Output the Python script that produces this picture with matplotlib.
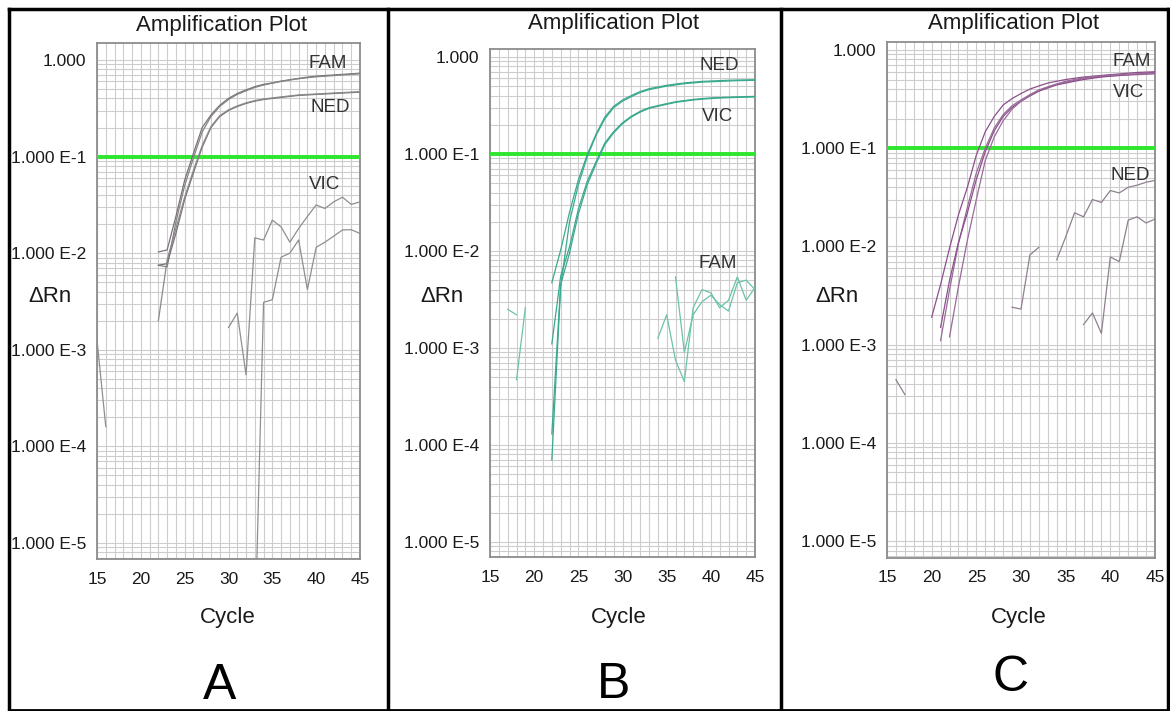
import numpy as np
import matplotlib
matplotlib.use("Agg")
import matplotlib.pyplot as plt
from matplotlib.ticker import MultipleLocator, LogLocator, NullFormatter
from matplotlib.lines import Line2D

plt.rcParams['font.family'] = ['Liberation Sans', 'DejaVu Sans']

# ---- data ----
x_ticks = [15, 20, 25, 30, 35, 40, 45]
y_ticks = [1e-5, 1e-4, 1e-3, 1e-2, 1e-1, 1.0]
y_tick_labels = ["1.000 E-5", "1.000 E-4", "1.000 E-3", "1.000 E-2", "1.000 E-1", "1.000"]
threshold = 0.1

# panel A (grey)
a_amp_cycles = list(range(22, 46))
a_fam1 = [0.0103, 0.0108, 0.024, 0.057, 0.108, 0.20, 0.27, 0.34, 0.40, 0.45, 0.49, 0.53,
          0.56, 0.58, 0.605, 0.625, 0.645, 0.665, 0.68, 0.69, 0.70, 0.71, 0.72, 0.73]
a_fam2 = [0.0075, 0.0072, 0.021, 0.050, 0.097, 0.18, 0.26, 0.33, 0.39, 0.44, 0.48, 0.52,
          0.55, 0.575, 0.60, 0.62, 0.64, 0.655, 0.67, 0.68, 0.69, 0.70, 0.71, 0.72]
a_ned1 = [0.0075, 0.0078, 0.016, 0.036, 0.068, 0.125, 0.20, 0.26, 0.30, 0.33, 0.355, 0.375,
          0.39, 0.40, 0.41, 0.42, 0.43, 0.435, 0.44, 0.445, 0.45, 0.455, 0.46, 0.465]
a_ned2 = [0.0020, 0.0085, 0.018, 0.038, 0.072, 0.13, 0.205, 0.265, 0.305, 0.335, 0.36, 0.38,
          0.395, 0.405, 0.415, 0.425, 0.435, 0.44, 0.445, 0.45, 0.455, 0.46, 0.465, 0.47]
a_vic1_cycles = list(range(30, 46))
a_vic1 = [0.0017, 0.0024, 0.00055, 0.0144, 0.0137, 0.022, 0.0187, 0.013, 0.018, 0.024,
          0.0316, 0.029, 0.034, 0.038, 0.032, 0.034]
a_vic2_cycles = list(range(33, 46))
a_vic2 = [1e-6, 0.0031, 0.0033, 0.0091, 0.010, 0.0137, 0.0042, 0.0115, 0.013, 0.015,
          0.0174, 0.0175, 0.016]
a_early_cycles = [15, 16]
a_early = [0.00126, 0.00016]

# panel B (teal)
b_amp_cycles = list(range(22, 46))
b_ned1 = [0.0047, 0.0102, 0.025, 0.054, 0.098, 0.16, 0.24, 0.31, 0.36, 0.40, 0.44, 0.47,
          0.49, 0.51, 0.525, 0.54, 0.55, 0.56, 0.565, 0.57, 0.575, 0.578, 0.58, 0.582]
b_ned2 = [0.00007, 0.0043, 0.020, 0.048, 0.093, 0.155, 0.23, 0.30, 0.35, 0.39, 0.43, 0.46,
          0.48, 0.50, 0.515, 0.53, 0.54, 0.55, 0.555, 0.56, 0.565, 0.57, 0.572, 0.575]
b_vic1 = [0.0011, 0.0055, 0.011, 0.027, 0.052, 0.083, 0.13, 0.17, 0.21, 0.245, 0.275, 0.30,
          0.315, 0.33, 0.345, 0.355, 0.365, 0.372, 0.378, 0.382, 0.385, 0.388, 0.39, 0.392]
b_vic2 = [0.00013, 0.0045, 0.0095, 0.024, 0.048, 0.079, 0.125, 0.165, 0.205, 0.24, 0.27, 0.295,
          0.31, 0.325, 0.34, 0.35, 0.36, 0.367, 0.373, 0.377, 0.38, 0.383, 0.385, 0.387]
b_fam_l1_cycles = [17, 18]
b_fam_l1 = [0.0025, 0.0022]
b_fam_l2_cycles = [18, 19]
b_fam_l2 = [0.00047, 0.0026]
b_fam_r1_cycles = list(range(34, 46))
b_fam_r1 = [0.00126, 0.0022, 0.00075, 0.00045, 0.0026, 0.0040, 0.0037, 0.0026, 0.0031,
            0.0054, 0.0031, 0.0042]
b_fam_r2_cycles = list(range(36, 46))
b_fam_r2 = [0.0054, 0.0009, 0.0022, 0.0030, 0.0035, 0.0028, 0.0024, 0.0047, 0.0050, 0.0040]

# panel C (purple)
c_amp1_cycles = list(range(20, 46))
c_amp1 = [0.0019, 0.0041, 0.0096, 0.021, 0.040, 0.085, 0.147, 0.21, 0.275, 0.32, 0.36, 0.40,
          0.43, 0.46, 0.48, 0.50, 0.515, 0.53, 0.54, 0.55, 0.56, 0.57, 0.58, 0.59, 0.595, 0.60]
c_amp2_cycles = list(range(21, 46))
c_amp2 = [0.0011, 0.0036, 0.0107, 0.025, 0.056, 0.10, 0.16, 0.22, 0.27, 0.31, 0.35, 0.39,
          0.42, 0.45, 0.47, 0.49, 0.51, 0.525, 0.535, 0.545, 0.55, 0.555, 0.56, 0.565, 0.57]
c_amp3 = [0.0015, 0.0045, 0.011, 0.022, 0.048, 0.092, 0.15, 0.21, 0.26, 0.30, 0.34, 0.38,
          0.41, 0.44, 0.46, 0.48, 0.50, 0.515, 0.53, 0.54, 0.55, 0.56, 0.57, 0.58, 0.59]
c_amp4_cycles = list(range(22, 46))
c_amp4 = [0.0012, 0.0039, 0.0116, 0.030, 0.075, 0.13, 0.19, 0.25, 0.30, 0.35, 0.39, 0.42,
          0.45, 0.48, 0.50, 0.52, 0.535, 0.545, 0.555, 0.56, 0.565, 0.57, 0.575, 0.58]
c_ned1_cycles = [29, 30, 31, 32]
c_ned1 = [0.0024, 0.0023, 0.0082, 0.0098]
c_ned2_cycles = list(range(34, 46))
c_ned2 = [0.0073, 0.0125, 0.022, 0.020, 0.030, 0.028, 0.037, 0.035, 0.040, 0.042, 0.045, 0.047]
c_ned3_cycles = list(range(37, 46))
c_ned3 = [0.0016, 0.0021, 0.0013, 0.0078, 0.0070, 0.0185, 0.020, 0.0173, 0.019]
c_early_cycles = [16, 17]
c_early = [0.00044, 0.00031]

W, H = 1170, 711


def px_rect(left, top, right, bottom):
  return [left / W, (H - bottom) / H, (right - left) / W, (bottom - top) / H]


def setup_axes(ax, ylim):
  ax.set_yscale('log')
  ax.set_xlim(15, 45)
  ax.set_ylim(*ylim)
  ax.set_xticks(x_ticks)
  ax.xaxis.set_minor_locator(MultipleLocator(1))
  ax.set_yticks(y_ticks)
  ax.set_yticklabels(y_tick_labels)
  ax.yaxis.set_minor_locator(LogLocator(base=10, subs=np.arange(2, 10)))
  ax.yaxis.set_minor_formatter(NullFormatter())
  ax.grid(True, which='both', color='#cdcdcd', lw=0.8)
  ax.set_axisbelow(True)
  ax.tick_params(which='both', length=0)
  ax.tick_params(axis='y', labelsize=12.5, pad=8, labelcolor='#1a1a1a')
  ax.tick_params(axis='x', labelsize=12.5, pad=9, labelcolor='#1a1a1a')
  for s in ax.spines.values():
    s.set_color('#8c8c8c')
    s.set_linewidth(1.3)
  ax.axhline(threshold, color='#2ee62e', lw=2.8, zorder=3)


fig = plt.figure(figsize=(11.7, 7.11), dpi=100)

# panel A
ax_a = fig.add_axes(px_rect(97, 43, 360, 559))
setup_axes(ax_a, (10 ** -5.166, 10 ** 0.176))
for ys, col in [(a_fam1, '#7a6f7a'), (a_fam2, '#858585'), (a_ned1, '#7a6f7a'), (a_ned2, '#8a8a8a')]:
  ax_a.plot(a_amp_cycles, ys, color=col, lw=0.9, zorder=4)
ax_a.plot(a_vic1_cycles, a_vic1, color='#8f8f8f', lw=0.9, zorder=4)
ax_a.plot(a_vic2_cycles, a_vic2, color='#8f8f8f', lw=0.9, zorder=4)
ax_a.plot(a_early_cycles, a_early, color='#8f8f8f', lw=0.9, zorder=4)
ax_a.text(41.3, 0.93, "FAM", fontsize=13.5, color='#333333', ha='center', va='center')
ax_a.text(41.6, 0.32, "NED", fontsize=13.5, color='#333333', ha='center', va='center')
ax_a.text(41.0, 0.051, "VIC", fontsize=13.5, color='#333333', ha='center', va='center')

# panel B
ax_b = fig.add_axes(px_rect(490, 49, 755, 557))
setup_axes(ax_b, (10 ** -5.155, 10 ** 0.082))
for ys in [b_ned1, b_ned2, b_vic1, b_vic2]:
  ax_b.plot(b_amp_cycles, ys, color='#3aa98e', lw=0.9, zorder=4)
for cx, ys in [(b_fam_l1_cycles, b_fam_l1), (b_fam_l2_cycles, b_fam_l2),
               (b_fam_r1_cycles, b_fam_r1), (b_fam_r2_cycles, b_fam_r2)]:
  ax_b.plot(cx, ys, color='#6cc2aa', lw=0.9, zorder=4)
ax_b.text(41.0, 0.81, "NED", fontsize=13.5, color='#333333', ha='center', va='center')
ax_b.text(40.8, 0.246, "VIC", fontsize=13.5, color='#333333', ha='center', va='center')
ax_b.text(40.8, 0.0075, "FAM", fontsize=13.5, color='#333333', ha='center', va='center')

# panel C
ax_c = fig.add_axes(px_rect(887, 42, 1155, 558))
setup_axes(ax_c, (10 ** -5.173, 10 ** 0.081))
ax_c.plot(c_amp1_cycles, c_amp1, color='#8c4f8c', lw=0.9, zorder=4)
ax_c.plot(c_amp2_cycles, c_amp2, color='#9a6a9a', lw=0.9, zorder=4)
ax_c.plot(c_amp2_cycles, c_amp3, color='#8c4f8c', lw=0.9, zorder=4)
ax_c.plot(c_amp4_cycles, c_amp4, color='#9a6a9a', lw=0.9, zorder=4)
for cx, ys in [(c_ned1_cycles, c_ned1), (c_ned2_cycles, c_ned2), (c_ned3_cycles, c_ned3),
               (c_early_cycles, c_early)]:
  ax_c.plot(cx, ys, color='#8f8090', lw=0.9, zorder=4)
ax_c.text(42.4, 0.77, "FAM", fontsize=13.5, color='#333333', ha='center', va='center')
ax_c.text(42.0, 0.365, "VIC", fontsize=13.5, color='#333333', ha='center', va='center')
ax_c.text(42.2, 0.053, "NED", fontsize=13.5, color='#333333', ha='center', va='center')

# titles, axis names and panel letters
for cx, ty, ly, cyx in [(222, 26, 50, 228), (614, 23, 442, 619), (1014, 24, 837, 1019)]:
  fig.text(cx / W, 1 - ty / H, "Amplification Plot", fontsize=16, ha='center', va='center', color='#1a1a1a')
  fig.text(ly / W, 1 - 297 / H, "\u0394Rn", fontsize=16, ha='center', va='center', color='#1a1a1a')
  fig.text(cyx / W, 1 - 617 / H, "Cycle", fontsize=16, ha='center', va='center', color='#1a1a1a')

fig.text(220 / W, 1 - 686 / H, "A", fontsize=36, ha='center', va='center', color='black')
fig.text(614 / W, 1 - 685 / H, "B", fontsize=36, ha='center', va='center', color='black')
fig.text(1011 / W, 1 - 678 / H, "C", fontsize=36, ha='center', va='center', color='black')

# black frames round the three pictures
for x in [9, 388, 781, 1168]:
  fig.add_artist(Line2D([x / W, x / W], [0, 1 - 9 / H], color='black', lw=2.5, transform=fig.transFigure))
fig.add_artist(Line2D([9 / W, 1168 / W], [1 - 9 / H, 1 - 9 / H], color='black', lw=2.5, transform=fig.transFigure))
fig.add_artist(Line2D([9 / W, 1168 / W], [1 - 710 / H, 1 - 710 / H], color='black', lw=2.0, transform=fig.transFigure))

fig.savefig("out.png", dpi=100)
